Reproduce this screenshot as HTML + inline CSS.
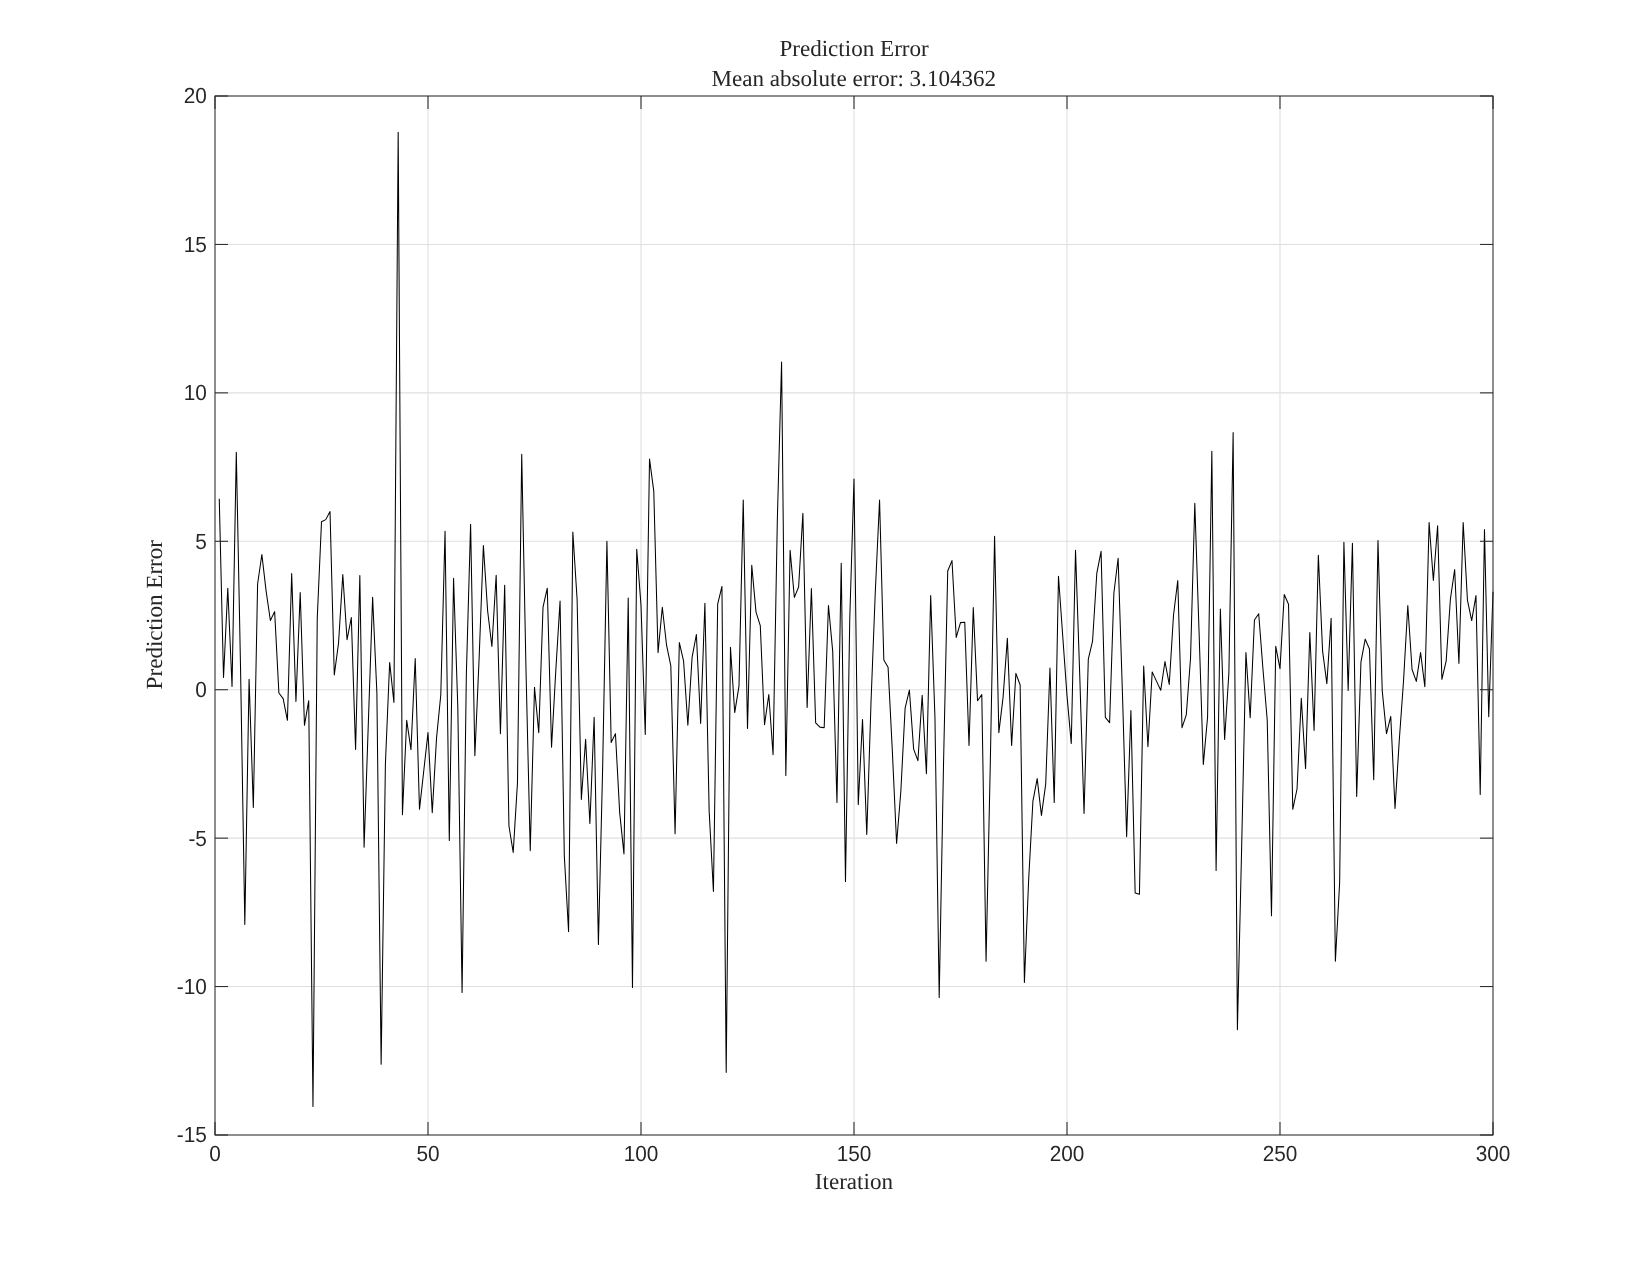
<!DOCTYPE html>
<html><head><meta charset="utf-8"><title>Prediction Error</title>
<style>
html,body{margin:0;padding:0;background:#fff;}
body{width:1650px;height:1275px;overflow:hidden;}
svg{display:block;transform:translateZ(0);will-change:transform;}
text{text-rendering:geometricPrecision;}
.tk{font-family:"Liberation Sans",sans-serif;font-size:20.8px;fill:#262626;}
.ti{font-family:"Liberation Serif",serif;font-size:23.1px;fill:#262626;}
</style></head><body>
<svg width="1650" height="1275" viewBox="0 0 1650 1275">
<rect width="1650" height="1275" fill="#fff"/>
<line x1="428.00" y1="96.0" x2="428.00" y2="1135.0" stroke="#dfdfdf" stroke-width="1.04"/>
<line x1="641.00" y1="96.0" x2="641.00" y2="1135.0" stroke="#dfdfdf" stroke-width="1.04"/>
<line x1="854.00" y1="96.0" x2="854.00" y2="1135.0" stroke="#dfdfdf" stroke-width="1.04"/>
<line x1="1067.00" y1="96.0" x2="1067.00" y2="1135.0" stroke="#dfdfdf" stroke-width="1.04"/>
<line x1="1280.00" y1="96.0" x2="1280.00" y2="1135.0" stroke="#dfdfdf" stroke-width="1.04"/>
<line x1="215.0" y1="986.57" x2="1493.0" y2="986.57" stroke="#dfdfdf" stroke-width="1.04"/>
<line x1="215.0" y1="838.14" x2="1493.0" y2="838.14" stroke="#dfdfdf" stroke-width="1.04"/>
<line x1="215.0" y1="689.71" x2="1493.0" y2="689.71" stroke="#dfdfdf" stroke-width="1.04"/>
<line x1="215.0" y1="541.29" x2="1493.0" y2="541.29" stroke="#dfdfdf" stroke-width="1.04"/>
<line x1="215.0" y1="392.86" x2="1493.0" y2="392.86" stroke="#dfdfdf" stroke-width="1.04"/>
<line x1="215.0" y1="244.43" x2="1493.0" y2="244.43" stroke="#dfdfdf" stroke-width="1.04"/>
<polyline points="219.26,498.84 223.52,677.54 227.78,588.19 232.04,686.45 236.30,452.23 240.56,668.93 244.82,924.38 249.08,679.32 253.34,807.57 257.60,584.03 261.86,554.50 266.12,591.16 270.38,620.55 274.64,611.64 278.90,692.98 283.16,698.62 287.42,720.29 291.68,573.49 295.94,701.59 300.20,592.49 304.46,725.34 308.72,700.70 312.98,1106.50 317.24,618.47 321.50,521.69 325.76,519.62 330.02,511.60 334.28,675.02 338.54,643.11 342.80,574.53 347.06,639.69 351.32,617.58 355.58,749.38 359.84,575.42 364.10,847.35 368.36,722.37 372.62,597.39 376.88,692.68 381.14,1064.35 385.40,763.93 389.66,662.40 393.92,702.48 398.18,132.22 402.44,814.69 406.70,720.29 410.96,749.68 415.22,658.54 419.48,809.35 423.74,771.05 428.00,732.61 432.26,812.61 436.52,738.10 440.78,695.06 445.04,531.19 449.30,840.52 453.56,578.39 457.82,707.53 462.08,992.51 466.34,674.87 470.60,524.36 474.86,755.62 479.12,658.54 483.38,545.44 487.64,611.05 491.90,646.49 496.16,575.28 500.42,733.65 504.68,585.22 508.94,825.97 513.20,852.39 517.46,782.93 521.72,454.31 525.98,668.93 530.24,850.61 534.50,687.34 538.76,732.61 543.02,607.19 547.28,588.19 551.54,747.30 555.80,670.42 560.06,601.10 564.32,855.95 568.58,931.65 572.84,532.08 577.10,599.17 581.36,799.55 585.62,739.29 589.88,823.60 594.14,717.32 598.40,944.57 602.66,766.90 606.92,541.29 611.18,742.55 615.44,733.65 619.70,812.91 623.96,853.88 628.22,597.99 632.48,987.46 636.74,549.30 641.00,605.11 645.26,734.54 649.52,459.06 653.78,491.12 658.04,652.61 662.30,607.19 666.56,645.19 670.82,665.97 675.08,833.69 679.34,642.51 683.60,661.22 687.86,725.34 692.12,657.06 696.38,634.50 700.64,723.56 704.90,603.33 709.16,811.13 713.42,891.58 717.68,604.22 721.94,586.41 726.20,1072.36 730.46,647.26 734.72,712.57 738.98,686.15 743.24,500.02 747.50,728.60 751.76,565.33 756.02,612.09 760.28,625.59 764.54,724.74 768.80,694.46 773.06,754.73 777.32,520.51 781.58,361.98 785.84,775.51 790.10,550.19 794.36,597.39 798.62,587.00 802.88,513.38 807.14,707.53 811.40,588.49 815.66,722.96 819.92,727.12 824.18,727.71 828.44,605.41 832.70,651.12 836.96,802.52 841.22,563.25 845.48,881.48 849.74,619.95 854.00,478.95 858.26,804.60 862.52,719.40 866.78,834.58 871.04,701.59 875.30,591.75 879.56,500.02 883.82,660.03 888.08,667.15 892.34,750.87 896.60,843.49 900.86,790.94 905.12,708.12 909.38,690.01 913.64,749.09 917.90,760.66 922.16,695.35 926.42,773.72 930.68,595.61 934.94,717.03 939.20,997.56 943.46,766.90 947.72,570.97 951.98,560.58 956.24,637.47 960.50,622.62 964.76,622.33 969.02,745.52 973.28,607.48 977.54,700.70 981.80,694.61 986.06,961.34 990.32,762.44 994.58,536.24 998.84,732.61 1003.10,697.14 1007.36,638.36 1011.62,745.52 1015.88,673.39 1020.14,684.96 1024.40,982.56 1028.66,879.70 1032.92,801.04 1037.18,778.62 1041.44,815.43 1045.70,784.11 1049.96,668.04 1054.22,802.52 1058.48,576.31 1062.74,636.28 1067.00,695.65 1071.26,743.59 1075.52,550.19 1079.78,676.36 1084.04,813.50 1088.30,659.14 1092.56,641.03 1096.82,573.05 1101.08,551.38 1105.34,717.32 1109.60,722.67 1113.86,593.24 1118.12,558.21 1122.38,691.20 1126.64,836.66 1130.90,710.49 1135.16,893.06 1139.42,894.25 1143.68,665.97 1147.94,746.71 1152.20,671.90 1156.46,681.11 1160.72,690.31 1164.98,661.51 1169.24,684.37 1173.50,615.20 1177.76,580.47 1182.02,727.71 1186.28,714.95 1190.54,657.95 1194.80,503.29 1199.06,631.83 1203.32,764.52 1207.58,717.03 1211.84,451.34 1216.10,870.50 1220.36,608.97 1224.62,739.59 1228.88,673.09 1233.14,432.64 1237.40,1029.62 1241.66,847.05 1245.92,652.61 1250.18,717.62 1254.44,619.95 1258.70,613.72 1262.96,668.93 1267.22,719.99 1271.48,915.62 1275.74,646.37 1280.00,668.64 1284.26,594.42 1288.52,604.22 1292.78,809.35 1297.04,789.01 1301.30,698.32 1305.56,768.68 1309.82,632.42 1314.08,730.38 1318.34,555.24 1322.60,651.12 1326.86,683.63 1331.12,618.17 1335.38,961.34 1339.64,882.67 1343.90,542.18 1348.16,690.60 1352.42,543.36 1356.68,796.58 1360.94,662.11 1365.20,639.10 1369.46,649.04 1373.72,779.66 1377.98,540.40 1382.24,690.90 1386.50,733.65 1390.76,716.43 1395.02,808.46 1399.28,740.18 1403.54,680.81 1407.80,605.41 1412.06,669.53 1416.32,681.40 1420.58,652.61 1424.84,686.75 1429.10,522.58 1433.36,580.47 1437.62,525.70 1441.88,679.32 1446.14,661.22 1450.40,599.17 1454.66,569.49 1458.92,663.59 1463.18,522.58 1467.44,600.06 1471.70,620.55 1475.96,595.61 1480.22,794.50 1484.48,529.41 1488.74,716.73 1493.00,591.75" fill="none" stroke="#000" stroke-width="1.04" stroke-linejoin="round"/>
<line x1="215.00" y1="1135.0" x2="215.00" y2="1122.0" stroke="#262626" stroke-width="1.04"/>
<line x1="215.00" y1="96.0" x2="215.00" y2="109.0" stroke="#262626" stroke-width="1.04"/>
<line x1="428.00" y1="1135.0" x2="428.00" y2="1122.0" stroke="#262626" stroke-width="1.04"/>
<line x1="428.00" y1="96.0" x2="428.00" y2="109.0" stroke="#262626" stroke-width="1.04"/>
<line x1="641.00" y1="1135.0" x2="641.00" y2="1122.0" stroke="#262626" stroke-width="1.04"/>
<line x1="641.00" y1="96.0" x2="641.00" y2="109.0" stroke="#262626" stroke-width="1.04"/>
<line x1="854.00" y1="1135.0" x2="854.00" y2="1122.0" stroke="#262626" stroke-width="1.04"/>
<line x1="854.00" y1="96.0" x2="854.00" y2="109.0" stroke="#262626" stroke-width="1.04"/>
<line x1="1067.00" y1="1135.0" x2="1067.00" y2="1122.0" stroke="#262626" stroke-width="1.04"/>
<line x1="1067.00" y1="96.0" x2="1067.00" y2="109.0" stroke="#262626" stroke-width="1.04"/>
<line x1="1280.00" y1="1135.0" x2="1280.00" y2="1122.0" stroke="#262626" stroke-width="1.04"/>
<line x1="1280.00" y1="96.0" x2="1280.00" y2="109.0" stroke="#262626" stroke-width="1.04"/>
<line x1="1493.00" y1="1135.0" x2="1493.00" y2="1122.0" stroke="#262626" stroke-width="1.04"/>
<line x1="1493.00" y1="96.0" x2="1493.00" y2="109.0" stroke="#262626" stroke-width="1.04"/>
<line x1="215.0" y1="1135.00" x2="228.0" y2="1135.00" stroke="#262626" stroke-width="1.04"/>
<line x1="1493.0" y1="1135.00" x2="1480.0" y2="1135.00" stroke="#262626" stroke-width="1.04"/>
<line x1="215.0" y1="986.57" x2="228.0" y2="986.57" stroke="#262626" stroke-width="1.04"/>
<line x1="1493.0" y1="986.57" x2="1480.0" y2="986.57" stroke="#262626" stroke-width="1.04"/>
<line x1="215.0" y1="838.14" x2="228.0" y2="838.14" stroke="#262626" stroke-width="1.04"/>
<line x1="1493.0" y1="838.14" x2="1480.0" y2="838.14" stroke="#262626" stroke-width="1.04"/>
<line x1="215.0" y1="689.71" x2="228.0" y2="689.71" stroke="#262626" stroke-width="1.04"/>
<line x1="1493.0" y1="689.71" x2="1480.0" y2="689.71" stroke="#262626" stroke-width="1.04"/>
<line x1="215.0" y1="541.29" x2="228.0" y2="541.29" stroke="#262626" stroke-width="1.04"/>
<line x1="1493.0" y1="541.29" x2="1480.0" y2="541.29" stroke="#262626" stroke-width="1.04"/>
<line x1="215.0" y1="392.86" x2="228.0" y2="392.86" stroke="#262626" stroke-width="1.04"/>
<line x1="1493.0" y1="392.86" x2="1480.0" y2="392.86" stroke="#262626" stroke-width="1.04"/>
<line x1="215.0" y1="244.43" x2="228.0" y2="244.43" stroke="#262626" stroke-width="1.04"/>
<line x1="1493.0" y1="244.43" x2="1480.0" y2="244.43" stroke="#262626" stroke-width="1.04"/>
<line x1="215.0" y1="96.00" x2="228.0" y2="96.00" stroke="#262626" stroke-width="1.04"/>
<line x1="1493.0" y1="96.00" x2="1480.0" y2="96.00" stroke="#262626" stroke-width="1.04"/>
<rect x="215.0" y="96.0" width="1278.0" height="1039.0" fill="none" stroke="#262626" stroke-width="1.04"/>
<text transform="translate(215.0,1161.1) scale(1,1.05)" text-anchor="middle" class="tk">0</text>
<text transform="translate(428.0,1161.1) scale(1,1.05)" text-anchor="middle" class="tk">50</text>
<text transform="translate(641.0,1161.1) scale(1,1.05)" text-anchor="middle" class="tk">100</text>
<text transform="translate(854.0,1161.1) scale(1,1.05)" text-anchor="middle" class="tk">150</text>
<text transform="translate(1067.0,1161.1) scale(1,1.05)" text-anchor="middle" class="tk">200</text>
<text transform="translate(1280.0,1161.1) scale(1,1.05)" text-anchor="middle" class="tk">250</text>
<text transform="translate(1493.0,1161.1) scale(1,1.05)" text-anchor="middle" class="tk">300</text>
<text transform="translate(206.9,1142.45) scale(1,1.05)" text-anchor="end" class="tk">-15</text>
<text transform="translate(206.9,994.02) scale(1,1.05)" text-anchor="end" class="tk">-10</text>
<text transform="translate(206.9,845.59) scale(1,1.05)" text-anchor="end" class="tk">-5</text>
<text transform="translate(206.9,697.16) scale(1,1.05)" text-anchor="end" class="tk">0</text>
<text transform="translate(206.9,548.74) scale(1,1.05)" text-anchor="end" class="tk">5</text>
<text transform="translate(206.9,400.31) scale(1,1.05)" text-anchor="end" class="tk">10</text>
<text transform="translate(206.9,251.88) scale(1,1.05)" text-anchor="end" class="tk">15</text>
<text transform="translate(206.9,103.45) scale(1,1.05)" text-anchor="end" class="tk">20</text>
<text x="854.1" y="55.8" text-anchor="middle" class="ti">Prediction Error</text>
<text x="853.8" y="85.7" text-anchor="middle" class="ti">Mean absolute error: 3.104362</text>
<text x="853.9" y="1188.9" text-anchor="middle" class="ti">Iteration</text>
<text transform="translate(162.3,614.7) rotate(-90)" text-anchor="middle" class="ti">Prediction Error</text>
</svg>
</body></html>
